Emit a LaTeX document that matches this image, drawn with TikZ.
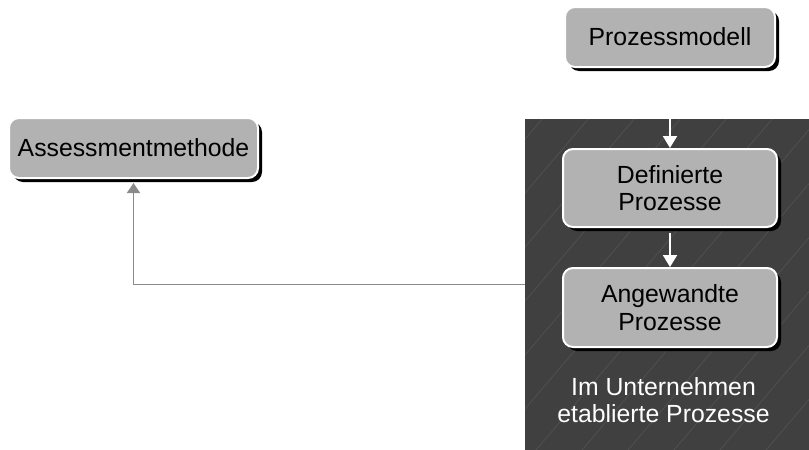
\documentclass[tikz,border=0pt]{standalone}
\usepackage{fontspec}
\setmainfont{Liberation Sans}
\usetikzlibrary{shapes,calc,positioning,arrows.meta,shadows}

\definecolor{kastengrau}{HTML}{B2B2B2}
\definecolor{dunkelgrau}{HTML}{404040}
\definecolor{schraffur}{HTML}{505050}
\definecolor{liniengrau}{HTML}{8A8A8A}

\begin{document}
\begin{tikzpicture}[x=0.5pt,y=-0.5pt,
                font=\fontsize{12.4}{13.8}\selectfont,
                kasten/.style={shape=rectangle, rounded corners=5pt, fill=kastengrau, draw=white, line width=1pt,
                               align=center, text=black, minimum width=107pt, minimum height=30pt,
                               drop shadow={shadow xshift=2pt, shadow yshift=-2pt, fill=black, opacity=1}},
                bereich/.style={shape=rectangle, fill=dunkelgrau, inner sep=0pt, outer sep=0pt},
                pfeilweiss/.style={draw=white, line width=1pt, shorten <=2.5pt, -{Triangle[width=7pt,length=6pt]}},
                pfeilgrau/.style={draw=liniengrau, line width=0.75pt, shorten >=2pt, -{Triangle[width=6.5pt,length=5pt]}},
                ]
                \useasboundingbox (0,0) rectangle (809,450);
                % dunkler Bereich mit Schraffur
                \node[bereich, minimum width=142pt, minimum height=165.5pt] (betrieb) at (667,284.5) {};
                \begin{scope}
                    \clip (betrieb.south west) rectangle (betrieb.north east);
                    \foreach \x in {260,306,...,860}
                        \draw[schraffur, line width=0.4pt] (\x,450) -- ++(283,-332);
                \end{scope}

                \node[kasten, minimum width=105pt] (modell) at (670,37) {Prozessmodell};
                \node[kasten, minimum width=124.5pt] (methode) at (133.5,148) {Assessmentmethode};
                \node[kasten, minimum height=39pt] (definiert) at (670,188) {Definierte\\Prozesse};
                \node[kasten, minimum height=39.5pt] (angewandt) at (670,307.5) {Angewandte\\Prozesse};
                \node[text=white, align=center] (etabliert) at (663.5,400) {Im Unternehmen\\etablierte Prozesse};

                \draw[pfeilweiss] (modell.south) -- (definiert.north);
                \draw[pfeilweiss] (definiert.south) -- (angewandt.north);
                \draw[pfeilgrau] (betrieb.west) -| (methode.south);
            \end{tikzpicture}
\end{document}
